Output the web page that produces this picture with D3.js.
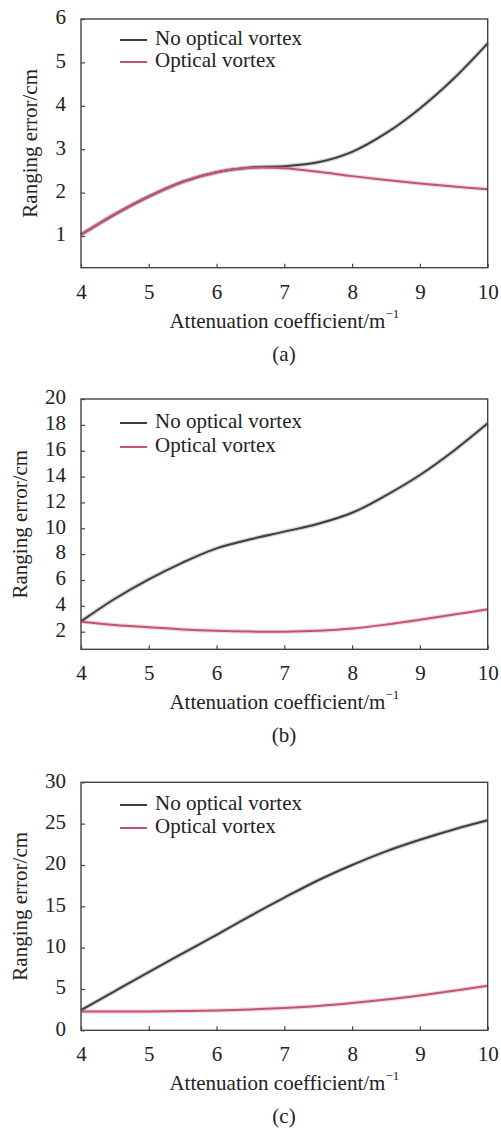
<!DOCTYPE html>
<html><head><meta charset="utf-8">
<script src="https://cdn.jsdelivr.net/npm/d3@7/dist/d3.min.js"></script>
<style>body{margin:0;background:#fff;}svg{display:block;}</style>
</head><body>
<script>
const xValues = [4, 4.5, 5, 5.5, 6, 6.5, 7, 7.5, 8, 8.5, 9, 9.5, 10];
const xTicks = [4, 5, 6, 7, 8, 9, 10];

const noVortexA = [1.03, 1.50, 1.91, 2.25, 2.47, 2.58, 2.61, 2.70, 2.94, 3.37, 3.94, 4.63, 5.44];
const vortexA   = [1.03, 1.50, 1.91, 2.25, 2.47, 2.57, 2.56, 2.48, 2.38, 2.29, 2.21, 2.14, 2.08];
const yTicksA = [1, 2, 3, 4, 5, 6];

const noVortexB = [2.8, 4.55, 6.05, 7.35, 8.45, 9.15, 9.74, 10.35, 11.2, 12.55, 14.12, 16.0, 18.12];
const vortexB   = [2.78, 2.52, 2.34, 2.18, 2.07, 2.01, 2.0, 2.07, 2.24, 2.55, 2.93, 3.33, 3.73];
const yTicksB = [2, 4, 6, 8, 10, 12, 14, 16, 18, 20];

const noVortexC = [2.43, 4.75, 7.05, 9.3, 11.55, 13.85, 16.05, 18.15, 20.0, 21.65, 23.05, 24.3, 25.4];
const vortexC   = [2.27, 2.27, 2.28, 2.32, 2.40, 2.52, 2.70, 2.95, 3.30, 3.72, 4.22, 4.78, 5.38];
const yTicksC = [0, 5, 10, 15, 20, 25, 30];

const seriesNames = ["No optical vortex", "Optical vortex"];
const panelLabels = ["(a)", "(b)", "(c)"];
const xTitle = "Attenuation coefficient/m";
const yTitle = "Ranging error/cm";

const W = 501, H = 1129;
const svg = d3.select("body").append("svg").attr("width", W).attr("height", H)
  .style("font-family", "'Liberation Serif', 'Times New Roman', serif");

const colors = ["#3d3d3d", "#c4536c"];
const FS = 21;

const panels = [
  {top: 19, bottom: 267.7, dom: [0.27, 6], ticks: yTicksA, s: [noVortexA, vortexA], leg: [40, 62], ytx: 32, label: panelLabels[0]},
  {top: 399, bottom: 649.3, dom: [0.64, 20], ticks: yTicksB, s: [noVortexB, vortexB], leg: [423, 447], ytx: 22, label: panelLabels[1]},
  {top: 782.3, bottom: 1030.3, dom: [0, 30], ticks: yTicksC, s: [noVortexC, vortexC], leg: [805, 828], ytx: 22, label: panelLabels[2]}
];

const left = 81, right = 487.7;

panels.forEach(p => {
  const x = d3.scaleLinear().domain([4, 10]).range([left, right]);
  const y = d3.scaleLinear().domain(p.dom).range([p.bottom, p.top]);
  const g = svg.append("g");

  p.s.forEach((vals, i) => {
    const line = d3.line().x((d, j) => x(xValues[j])).y(d => y(d)).curve(d3.curveCatmullRom.alpha(0.5));
    g.append("path").datum(vals).attr("d", line).attr("fill", "none")
      .attr("stroke", colors[i]).attr("stroke-opacity", 0.22).attr("stroke-width", 4.5);
    g.append("path").datum(vals).attr("d", line).attr("fill", "none")
      .attr("stroke", colors[i]).attr("stroke-width", 2);
  });

  const xAxis = d3.axisBottom(x).tickValues(xTicks).tickFormat(d3.format("d"))
    .tickSizeInner(-4).tickSizeOuter(0).tickPadding(14);
  const gx = g.append("g").attr("transform", `translate(0,${p.bottom})`).call(xAxis);
  const yAxis = d3.axisLeft(y).tickValues(p.ticks).tickFormat(d3.format("d"))
    .tickSizeInner(-4).tickSizeOuter(0).tickPadding(15);
  const gy = g.append("g").attr("transform", `translate(${left},0)`).call(yAxis);
  [gx, gy].forEach(a => {
    a.select(".domain").remove();
    a.selectAll("line").attr("stroke", "#444").attr("stroke-width", 1.2);
    a.selectAll("text").attr("font-size", FS).attr("fill", "#222").attr("font-family", "'Liberation Serif', serif");
  });
  gx.selectAll("text").attr("dy", null).attr("y", 26).attr("dominant-baseline", "middle");
  gy.selectAll("text").attr("dy", null).attr("dominant-baseline", "middle");

  g.append("rect").attr("x", left).attr("y", p.top).attr("width", right - left).attr("height", p.bottom - p.top)
    .attr("fill", "none").attr("stroke", "#444").attr("stroke-width", 1.4);

  seriesNames.forEach((n, i) => {
    g.append("line").attr("x1", 120).attr("x2", 147).attr("y1", p.leg[i]).attr("y2", p.leg[i])
      .attr("stroke", colors[i]).attr("stroke-width", 2);
    g.append("text").attr("x", 155).attr("y", p.leg[i]).attr("dominant-baseline", "middle")
      .attr("font-size", FS).attr("fill", "#222").text(n);
  });

  const t = g.append("text").attr("x", (left + right) / 2).attr("y", p.bottom + 55)
    .attr("text-anchor", "middle").attr("dominant-baseline", "middle").attr("font-size", FS).attr("fill", "#222");
  t.append("tspan").text(xTitle);
  t.append("tspan").attr("font-size", 13).attr("dy", -8).text("−1");

  const cy = (p.top + p.bottom) / 2;
  g.append("text").attr("transform", `translate(${p.ytx},${cy}) rotate(-90)`)
    .attr("text-anchor", "middle").attr("dominant-baseline", "middle").attr("font-size", FS).attr("fill", "#222")
    .text(yTitle);

  g.append("text").attr("x", 284).attr("y", p.bottom + 88).attr("text-anchor", "middle")
    .attr("dominant-baseline", "middle").attr("font-size", FS).attr("fill", "#222").text(p.label);
});
</script>
</body></html>
